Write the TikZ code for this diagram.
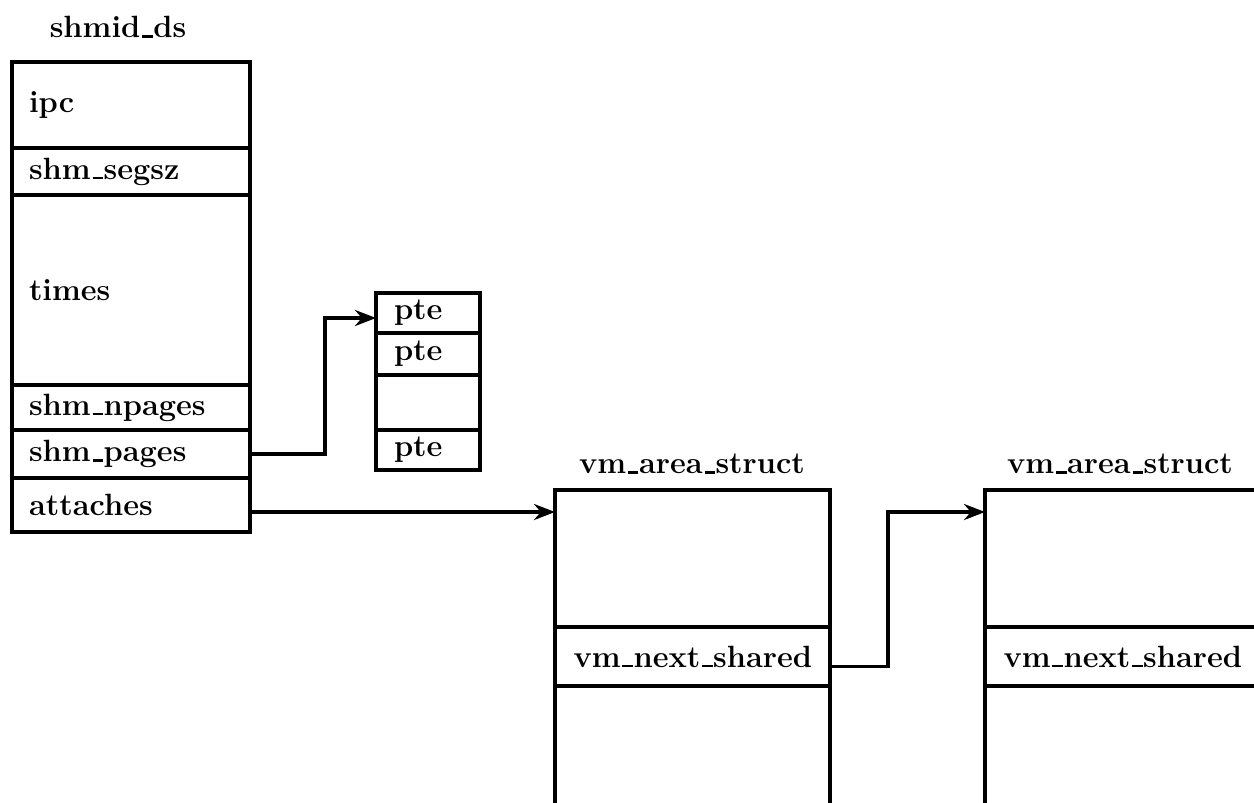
\documentclass[tikz,border=0pt]{standalone}
\usetikzlibrary{arrows.meta,positioning}
\newcommand{\usc}{\leavevmode\kern.06em\vbox{\hrule width.34em height 1.3pt}\kern.02em}
\begin{document}
\begin{tikzpicture}[>={Stealth[length=0.42cm,width=0.32cm]},line width=2.1pt,font={\fontsize{17.5}{20}\selectfont\bfseries},node distance=0pt,outer sep=0pt]
\tikzstyle{f}=[draw,align=left,anchor=north]
\tikzstyle{shm}=[f,text width=4.08cm,inner xsep=0.34cm]
\tikzstyle{pt}=[f,text width=1.36cm,inner xsep=0.36cm]
\tikzstyle{vm}=[f,text width=4.76cm,inner xsep=0.37cm]
\useasboundingbox (0,0) rectangle (25.08,-16.04);
\clip (0,0) rectangle (25.08,-16.04);
\node (shmid) at (2.36,-0.54) {shmid\usc ds};
\node[shm,minimum height=1.72cm] (ipc) at (2.62,-1.24) {ipc};
\node[shm,minimum height=0.94cm,below=of ipc] (segsz) {shm\usc segsz};
\node[shm,minimum height=3.80cm,below=of segsz] (times) {times};
\node[shm,minimum height=0.90cm,below=of times] (npages) {shm\usc npages};
\node[shm,minimum height=0.96cm,below=of npages] (pages) {shm\usc pages};
\node[shm,minimum height=1.08cm,below=of pages] (attaches) {attaches};
\node[pt,minimum height=0.80cm] (p1) at (8.56,-5.86) {pte};
\node[pt,minimum height=0.84cm,below=of p1] (p2) {pte};
\node[pt,minimum height=1.10cm,below=of p2] (p3) {};
\node[pt,minimum height=0.80cm,below=of p3] (p4) {pte};
\node (vmatitle) at (13.84,-9.28) {vm\usc area\usc struct};
\node[vm,minimum height=2.74cm] (vma) at (13.85,-9.80) {};
\node[vm,minimum height=1.18cm,below=of vma] (vmanext) {vm\usc next\usc shared};
\node[vm,minimum height=3.5cm,below=of vmanext] (vmarest) {};
\node (vmbtitle) at (22.40,-9.28) {vm\usc area\usc struct};
\node[vm,minimum height=2.74cm] (vmb) at (22.45,-9.80) {};
\node[vm,minimum height=1.18cm,below=of vmb] (vmbnext) {vm\usc next\usc shared};
\node[vm,minimum height=3.5cm,below=of vmbnext] (vmbrest) {};
\draw[->] (pages.east) -- ++(1.5,0) |- ([yshift=-0.1cm]p1.west);
\draw[->] ([yshift=0.93cm]vma.west -| attaches.east) -- ([yshift=0.93cm]vma.west);
\draw[->] ([yshift=-0.2cm]vmanext.east) -- ++(1.16,0) |- ([yshift=0.93cm]vmb.west);
\end{tikzpicture}
\end{document}
